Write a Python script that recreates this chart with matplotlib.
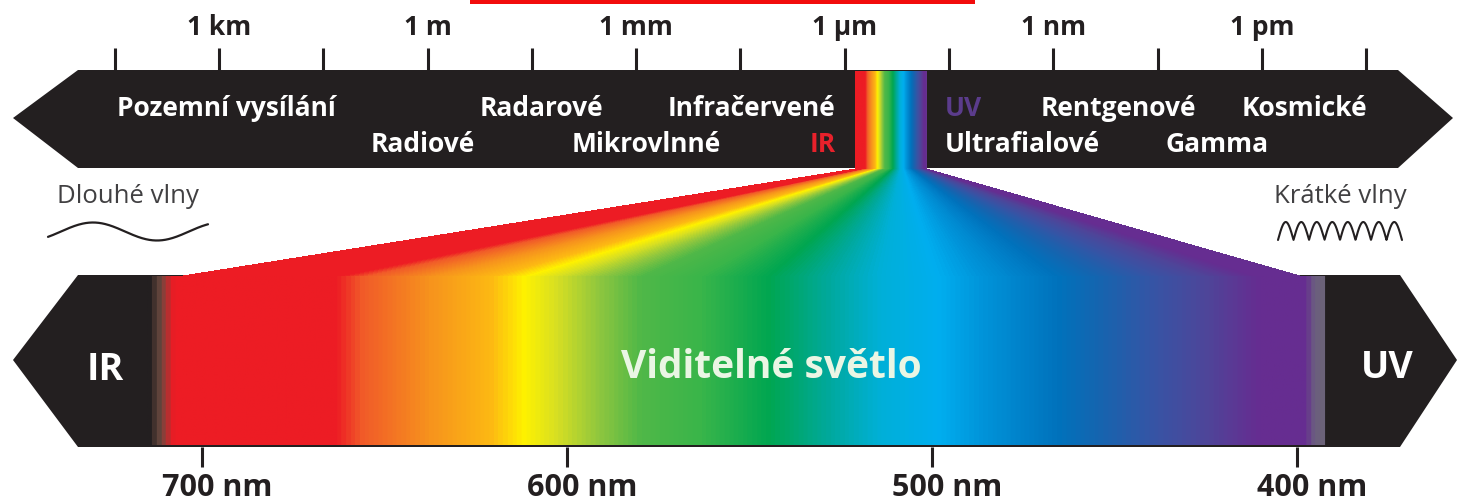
import numpy as np
import matplotlib.pyplot as plt
from matplotlib.colors import LinearSegmentedColormap
from matplotlib.patches import Polygon, Rectangle

plt.rcParams['font.family'] = ['Open Sans', 'DejaVu Sans']

W, H = 1459, 504
INK = '#231F20'

# --- top scale: wavelength in metres, as log10 ---
major_exp = [3, 0, -3, -6, -9, -12]
major_labels = ['1 km', '1 m', '1 mm', '1 µm', '1 nm', '1 pm']
minor_exp = [4.5, 1.5, -1.5, -4.5, -7.5, -10.5, -13.5]

band_names = ['Pozemní vysílání', 'Radiové', 'Radarové', 'Mikrovlnné',
              'Infračervené', 'IR', 'UV', 'Ultrafialové', 'Rentgenové',
              'Gamma', 'Kosmické']
band_exp = [2.90, 0.07, -1.64, -3.14, -4.66, -5.68, -7.71, -8.55, -9.94,
            -11.35, -12.61]
band_row = [0, 1, 0, 1, 0, 1, 0, 1, 0, 1, 0]
band_colors = ['white'] * 5 + ['#E8212B', '#5B3C8C'] + ['white'] * 4

# --- visible band: wavelength in nm ---
nm_ticks = [700, 600, 500, 400]
nm_labels = ['700 nm', '600 nm', '500 nm', '400 nm']
spectrum_nm = [715, 712, 708.5, 663.6, 656.7, 637.5, 621, 612, 603, 591, 580,
               563.6, 544.4, 528, 514, 497.8, 485.5, 465, 454, 437.5, 423.8,
               410, 397, 394.5, 391.3, 391]
spectrum_colors = ['#231F20', '#6B4A40', '#ED1C24', '#ED1C24', '#F15A29',
                   '#F7941D', '#FDB913', '#FFF200', '#D7DF23', '#8DC63F',
                   '#50B848', '#3AB54A', '#00A651', '#00A99D', '#00B0D8',
                   '#00AEEF', '#0093D9', '#0072BC', '#1565B0', '#3953A4',
                   '#4F4599', '#662D91', '#662D91', '#6B5E80', '#6B6475',
                   '#231F20']

nm_lo, nm_hi = spectrum_nm[0], spectrum_nm[-1]
pos = [(nm_lo - v) / (nm_lo - nm_hi) for v in spectrum_nm]
spec_cmap = LinearSegmentedColormap.from_list('spec', list(zip(pos, spectrum_colors)))
# colored part only (red .. violet), used for the small band and the fan
u0 = (nm_lo - 708.5) / (nm_lo - nm_hi)
u1 = (nm_lo - 397) / (nm_lo - nm_hi)

fig = plt.figure(figsize=(W / 100, H / 100), dpi=100)

# pixel axes for the decorative shapes
ax = fig.add_axes([0, 0, 1, 1])
ax.set_xlim(0, W)
ax.set_ylim(H, 0)
ax.axis('off')

# top arrow band
ax.add_patch(Polygon([(13, 118), (78, 70), (1398, 70), (1453, 118),
                      (1398, 168), (78, 168)], closed=True, fc=INK, ec='none'))
# bottom arrow band
ax.add_patch(Polygon([(13, 360), (78, 275), (1400, 275), (1457, 360),
                      (1400, 447), (78, 447)], closed=True, fc=INK, ec='none'))
# red strip at the top edge
ax.add_patch(Rectangle((470, 0), 505, 3.5, fc='#F20C0C', ec='none'))

# small rainbow inside the top band
small = np.linspace(u0, u1, 200)[None, :]
ax.imshow(small, extent=[855, 927, 168, 71], cmap=spec_cmap, vmin=0, vmax=1,
          aspect='auto', interpolation='bilinear', zorder=3)

# fan between the small rainbow and the big band
fy0, fy1 = 168, 277
yy, xx = np.mgrid[fy0:fy1, 0:W]
t = (yy - fy0) / (fy1 - fy0)
xl = 855 + t * (170 - 855)
xr = 927 + t * (1307 - 927)
u = (xx + 0.5 - xl) / (xr - xl)
inside = (u >= 0) & (u <= 1)
rgba = spec_cmap(u0 + np.clip(u, 0, 1) * (u1 - u0))
rgba[..., 3] = inside.astype(float)
ax.imshow(rgba, extent=[0, W, fy1, fy0], aspect='auto',
          interpolation='bilinear', zorder=2)

# wave icons
lx = np.linspace(48, 208, 200)
ax.plot(lx, 231.5 - 9 * np.cos(2 * np.pi * (lx - 93) / 128), color=INK, lw=1.6,
        solid_capstyle='round')
sx = np.linspace(1278, 1402, 600)
ax.plot(sx, 240 - 18 * np.abs(np.sin(np.pi * (sx - 1278) / 15.5)), color=INK,
        lw=1.5, solid_capstyle='round')
ax.text(57, 203, 'Dlouhé vlny', fontsize=18.5, color='#414042', va='baseline')
ax.text(1407, 203, 'Krátké vlny', fontsize=18.5, color='#414042', va='baseline',
        ha='right')

ax.text(105, 380, 'IR', fontsize=27, fontweight='bold', color='white',
        ha='center', va='baseline')
ax.text(1387, 378, 'UV', fontsize=27, fontweight='bold', color='white',
        ha='center', va='baseline')

# --- top axis: log wavelength, short wavelengths to the right ---
ax_top = fig.add_axes([0, 0, 1, 1])
ax_top.patch.set_alpha(0)
ax_top.set_xscale('log')
ax_top.set_xlim(10 ** 6.1497, 10 ** -14.834)
ax_top.set_ylim(H, 0)
ax_top.axis('off')

ax_top.vlines([10.0 ** e for e in major_exp + minor_exp], 48, 70, color=INK, lw=2.2)
for e, lab in zip(major_exp, major_labels):
    ax_top.text(10.0 ** e, 35, lab, fontsize=19, fontweight='bold', color=INK,
                ha='center', va='baseline')

row_base = [116, 152]
for name, e, r, c in zip(band_names, band_exp, band_row, band_colors):
    ax_top.text(10.0 ** e, row_base[r], name, fontsize=19, fontweight='bold',
                color=c, ha='center', va='baseline')

# --- bottom axis: visible light in nm ---
ax_bot = fig.add_axes([0, 0, 1, 1])
ax_bot.patch.set_alpha(0)
ax_bot.set_xlim(755.3, 355.6)
ax_bot.set_ylim(H, 0)
ax_bot.axis('off')

grad = np.linspace(0, 1, 1200)[None, :]
ax_bot.imshow(grad, extent=[nm_lo, nm_hi, 445.5, 277], cmap=spec_cmap,
              vmin=0, vmax=1, aspect='auto', interpolation='bilinear')
ax_bot.vlines(nm_ticks, 447, 467, color=INK, lw=2.2)
for v, lab in zip(nm_ticks, nm_labels):
    ax_bot.text(v - 4.2, 496, lab, fontsize=22, fontweight='bold', color=INK,
                ha='center', va='baseline')
ax_bot.text(544, 378, 'Viditelné světlo', fontsize=28, fontweight='bold',
            color='#EAF6E4', ha='center', va='baseline')

fig.savefig('out.png', dpi=100)
